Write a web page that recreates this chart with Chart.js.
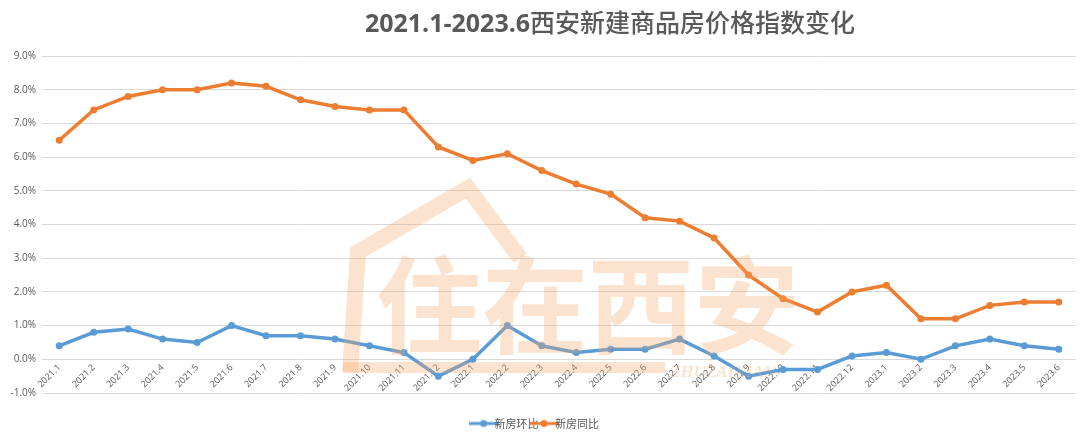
<!DOCTYPE html>
<html>
<head>
<meta charset="utf-8">
<script src="https://cdn.jsdelivr.net/npm/chart.js@4.4.0/dist/chart.umd.min.js"></script>
<style>
  html, body { margin: 0; padding: 0; background: #fff; }
  #wrap { width: 1080px; height: 436px; }
</style>
</head>
<body>
<div id="wrap"><canvas id="myChart" width="1080" height="436"></canvas></div>
<script>
'use strict';

// Data

let months = ['2021.1', '2021.2', '2021.3', '2021.4', '2021.5', '2021.6', '2021.7', '2021.8', '2021.9', '2021.10',
  '2021.11', '2021.12', '2022.1', '2022.2', '2022.3', '2022.4', '2022.5', '2022.6', '2022.7', '2022.8',
  '2022.9', '2022.10', '2022.11', '2022.12', '2023.1', '2023.2', '2023.3', '2023.4', '2023.5', '2023.6'];

let momValues = [0.4, 0.8, 0.9, 0.6, 0.5, 1.0, 0.7, 0.7, 0.6, 0.4,
  0.2, -0.5, 0.0, 1.0, 0.4, 0.2, 0.3, 0.3, 0.6, 0.1,
  -0.5, -0.3, -0.3, 0.1, 0.2, 0.0, 0.4, 0.6, 0.4, 0.3];

let yoyValues = [6.5, 7.4, 7.8, 8.0, 8.0, 8.2, 8.1, 7.7, 7.5, 7.4,
  7.4, 6.3, 5.9, 6.1, 5.6, 5.2, 4.9, 4.2, 4.1, 3.6,
  2.5, 1.8, 1.4, 2.0, 2.2, 1.2, 1.2, 1.6, 1.7, 1.7];

let seriesNames = ['新房环比', '新房同比'];

let blue = '#5B9BD5';
let orange = '#ED7D31';
let textGray = '#595959';

// Legend marker: short line with a dot

function legendMarker(color) {
  let c = document.createElement('canvas');
  c.width = 30;
  c.height = 10;
  let g = c.getContext('2d');
  g.strokeStyle = color;
  g.lineWidth = 3;
  g.beginPath();
  g.moveTo(0, 5);
  g.lineTo(30, 5);
  g.stroke();
  g.fillStyle = color;
  g.beginPath();
  g.arc(15, 5, 3.5, 0, Math.PI * 2);
  g.fill();
  return c;
}

// Title drawn by hand so it can sit right of centre like the original

let titlePlugin = {
  id: 'titleText',
  afterDraw(chart) {
    let ctx = chart.ctx;
    ctx.save();
    ctx.fillStyle = textGray;
    ctx.textBaseline = 'alphabetic';
    let part1 = '2021.1-2023.6';
    let part2 = '西安新建商品房价格指数变化';
    let f1 = 'bold 25px "Open Sans", "DejaVu Sans", sans-serif';
    let f2 = '500 25px "Noto Sans CJK SC", sans-serif';
    ctx.font = f1;
    let w1 = ctx.measureText(part1).width;
    ctx.font = f2;
    let w2 = ctx.measureText(part2).width;
    let x = 610 - (w1 + w2) / 2;
    ctx.font = f1;
    ctx.fillText(part1, x, 32);
    ctx.font = f2;
    ctx.fillText(part2, x + w1, 32);
    ctx.restore();
  }
};

// The legend sits lower than the gap below the plot, move it down

let legendShift = {
  id: 'legendShift',
  afterLayout(chart) {
    chart.legend.top += 25;
    chart.legend.bottom += 25;
  }
};

// Watermark over the lines

let watermarkPlugin = {
  id: 'watermark',
  afterDatasetsDraw(chart) {
    let ctx = chart.ctx;
    ctx.save();
    ctx.globalAlpha = 0.32;
    ctx.strokeStyle = '#F7A86A';
    ctx.fillStyle = '#F7A86A';
    ctx.lineWidth = 16;
    ctx.lineJoin = 'miter';
    ctx.beginPath();
    ctx.moveTo(350, 372);
    ctx.lineTo(358, 252);
    ctx.lineTo(468, 188);
    ctx.lineTo(520, 258);
    ctx.stroke();
    ctx.fillRect(343, 362, 322, 11);
    ctx.font = 'bold 106px "Noto Sans CJK SC", sans-serif';
    ctx.textBaseline = 'alphabetic';
    ctx.fillText('住在西安', 376, 345);
    ctx.font = 'italic bold 17px "Liberation Serif", serif';
    ctx.fillText('ZHUZAIXIAN', 670, 377);
    ctx.restore();
  }
};

const ctx = document.getElementById('myChart').getContext('2d');
const myChart = new Chart(ctx, {
  type: 'line',
  data: {
    labels: months,
    datasets: [{
      label: seriesNames[0],
      data: momValues,
      borderColor: blue,
      backgroundColor: blue,
      borderWidth: 3.5,
      pointRadius: 3.5,
      pointBorderWidth: 0,
      pointStyle: 'circle',
      tension: 0
    },
    {
      label: seriesNames[1],
      data: yoyValues,
      borderColor: orange,
      backgroundColor: orange,
      borderWidth: 3.5,
      pointRadius: 3.5,
      pointBorderWidth: 0,
      pointStyle: 'circle',
      tension: 0
    }]
  },
  options: {
    responsive: false,
    animation: false,
    layout: {
      padding: { left: 0, right: 3, top: 56, bottom: 22 }
    },
    plugins: {
      title: { display: false },
      tooltip: { enabled: false },
      legend: {
        position: 'bottom',
        labels: {
          color: textGray,
          font: { size: 11, family: '"Noto Sans CJK SC", sans-serif' },
          padding: 0,
          usePointStyle: true,
          generateLabels(chart) {
            return chart.data.datasets.map((ds, i) => ({
              text: ds.label,
              fontColor: textGray,
              pointStyle: legendMarker(ds.borderColor),
              strokeStyle: ds.borderColor,
              fillStyle: ds.borderColor,
              lineWidth: 0,
              hidden: false,
              datasetIndex: i
            }));
          }
        }
      }
    },
    scales: {
      x: {
        // category axis crosses at 0.0%, labels hang below it like in Excel
        position: { y: 0 },
        offset: true,
        grid: { display: false, drawTicks: false },
        border: { display: false },
        ticks: {
          color: textGray,
          font: { size: 9, family: '"Open Sans", sans-serif' },
          maxRotation: 45,
          minRotation: 45,
          autoSkip: false,
          padding: 3
        },
        afterFit(scale) { scale.height = 22; }
      },
      y: {
        min: -1,
        max: 9,
        grid: { color: '#D9D9D9', lineWidth: 1, drawTicks: false },
        border: { display: false },
        ticks: {
          stepSize: 1,
          color: textGray,
          font: { size: 10, family: '"Open Sans", sans-serif' },
          padding: 6,
          callback: v => v.toFixed(1) + '%'
        },
        afterFit(scale) { scale.width = 42; }
      }
    }
  },
  plugins: [legendShift, watermarkPlugin, titlePlugin]
});
</script>
</body>
</html>
